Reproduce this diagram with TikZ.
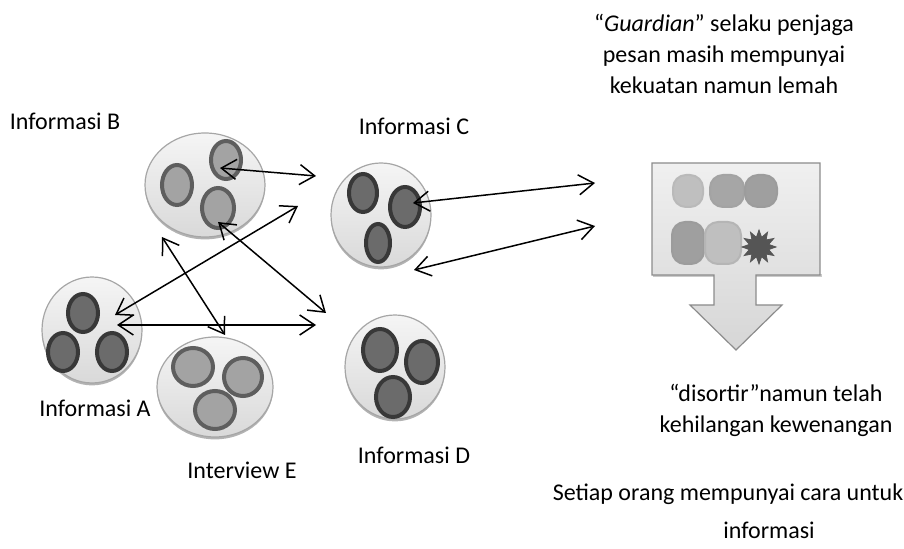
\documentclass[tikz,border=0pt]{standalone}
\usepackage{fontspec}
\setmainfont{Carlito}
\usetikzlibrary{arrows.meta,shapes.geometric,shadows}

\definecolor{ringgray}{HTML}{A6A6A6}
\definecolor{discTop}{HTML}{F5F5F5}
\definecolor{discBottom}{HTML}{D9D9D9}
\definecolor{blobLight}{HTML}{A3A3A3}
\definecolor{rimLight}{HTML}{5E5E5E}
\definecolor{blobDark}{HTML}{6B6B6B}
\definecolor{rimDark}{HTML}{383838}
\definecolor{boxFill}{HTML}{D6D6D6}
\definecolor{boxRim}{HTML}{8C8C8C}
\definecolor{burstFill}{HTML}{555555}

\begin{document}
\begin{tikzpicture}[x=0.5pt,y=-0.5pt,
    disc/.style={ellipse, draw=ringgray, line width=0.6pt, inner sep=0pt,
        top color=discTop, bottom color=discBottom,
        drop shadow={shadow xshift=0pt, shadow yshift=-1.2pt, opacity=0.6, fill=gray}},
    lightblob/.style={ellipse, draw=rimLight, fill=blobLight, line width=2pt, inner sep=0pt},
    darkblob/.style={ellipse, draw=rimDark, fill=blobDark, line width=2pt, inner sep=0pt},
    softblob/.style={rectangle, rounded corners=6.5pt, inner sep=0pt, line width=1pt},
    link/.style={{Straight Barb[length=7.5pt,width=10pt]}-{Straight Barb[length=7.5pt,width=10pt]},
        line width=0.75pt},
    lbl/.style={font=\fontsize{12}{15.5}\selectfont, align=center, inner sep=0pt}]
    \useasboundingbox (0,0) rectangle (904,549);

    % groups of information
    \node[disc, minimum width=60pt, minimum height=52pt] (B) at (205,185) {};
    \node[disc, minimum width=50pt, minimum height=52pt] (C) at (381,215) {};
    \node[disc, minimum width=50pt, minimum height=53pt] (A) at (92,330) {};
    \node[disc, minimum width=58pt, minimum height=50pt] (E) at (215,387) {};
    \node[disc, minimum width=50pt, minimum height=52pt] (D) at (395,367) {};

    % the blobs inside each group
    \foreach \n/\x/\y/\w/\h in {1/177/185/15/20, 2/226/160/15/19, 3/218/208/16/20}
        \node[lightblob, minimum width=\w pt, minimum height=\h pt] (B\n) at (\x,\y) {};
    \foreach \n/\x/\y/\w/\h in {1/363/193/14/19, 2/405/207/15/20, 3/378/243/12/19}
        \node[darkblob, minimum width=\w pt, minimum height=\h pt] (C\n) at (\x,\y) {};
    \foreach \n/\x/\y in {1/83/313, 2/63/352, 3/112/352}
        \node[darkblob, minimum width=15pt, minimum height=19pt] (A\n) at (\x,\y) {};
    \foreach \n/\x/\y/\w/\h in {1/193/367/20/19, 2/243/377/19/19, 3/215/410/20/19}
        \node[lightblob, minimum width=\w pt, minimum height=\h pt] (E\n) at (\x,\y) {};
    \foreach \n/\x/\y/\w/\h in {1/380/350/17/21, 2/422/362/16/21, 3/393/397/17/20}
        \node[darkblob, minimum width=\w pt, minimum height=\h pt] (D\n) at (\x,\y) {};

    % guardian box with its down arrow
    \fill[gray!70, opacity=0.6] (653,277) -- (822,277) -- (822,274) -- (653,274) -- cycle;
    \draw[boxRim, line width=0.6pt, top color=gray!12, bottom color=boxFill]
        (652,163) -- (820,163) -- (820,275) -- (756,275) -- (756,305) -- (782,305)
        -- (736,350) -- (690,305) -- (714,305) -- (714,275) -- (652,275) -- cycle;
    \node[softblob, draw=gray!55, fill=gray!50, minimum width=15pt, minimum height=16pt] (G1) at (688,191) {};
    \node[softblob, draw=gray!72, fill=gray!70, minimum width=17pt, minimum height=16pt] (G2) at (727,191) {};
    \node[softblob, draw=gray!78, fill=gray!75, minimum width=16pt, minimum height=16pt] (G3) at (761,191) {};
    \node[softblob, draw=gray!78, fill=gray!75, minimum width=16pt, minimum height=21pt] (G4) at (688,243) {};
    \node[softblob, draw=gray!58, fill=gray!50, minimum width=18pt, minimum height=21pt] (G5) at (723,243) {};
    \node[star, star points=12, star point ratio=1.7, minimum size=17pt, inner sep=0pt,
        fill=burstFill, draw=burstFill] (burst) at (759,247) {};

    % free ends of the links
    \coordinate (cTipB) at (220,168);
    \coordinate (cRightB) at (316,176);
    \coordinate (cUpA) at (115,315);
    \coordinate (cLeftC) at (298,206);
    \coordinate (cLowB) at (162,237);
    \coordinate (cTopE) at (225,335);
    \coordinate (cTipB3) at (218,222);
    \coordinate (cNearD) at (326,313);
    \coordinate (cMidA) at (117,325);
    \coordinate (cLeftD) at (316,325);
    \coordinate (cTipC) at (413,203);
    \coordinate (cBoxUp) at (595,183);
    \coordinate (cBelowC) at (414,270);
    \coordinate (cBoxLow) at (595,226);

    % links
    \draw[link] (cTipB) -- (cRightB);
    \draw[link] (cUpA) -- (cLeftC);
    \draw[link] (cLowB) -- (cTopE);
    \draw[link] (cTipB3) -- (cNearD);
    \draw[link] (cMidA) -- (cLeftD);
    \draw[link] (cTipC) -- (cBoxUp);
    \draw[link] (cBelowC) -- (cBoxLow);

    % labels
    \node[lbl] (tB) at (65,121) {Informasi B};
    \node[lbl] (tC) at (414,126) {Informasi C};
    \node[lbl] (tA) at (95,408) {Informasi A};
    \node[lbl] (tE) at (242,470) {Interview E};
    \node[lbl] (tD) at (414,455) {Informasi D};
    \node[lbl] (tGuard) at (724,54) {“\textit{Guardian}” selaku penjaga\\pesan masih mempunyai\\kekuatan namun lemah};
    \node[lbl] (tSort) at (776,410) {“disortir”namun telah\\kehilangan kewenangan};
    \node[lbl] (tSet) at (728,494) {Setiap orang mempunyai cara untuk};
    \node[lbl] (tInfo) at (769,530) {informasi};
\end{tikzpicture}
\end{document}
